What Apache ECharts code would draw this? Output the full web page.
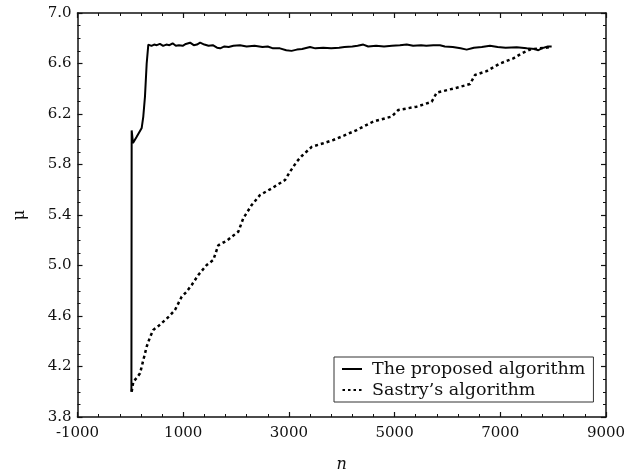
<!DOCTYPE html>
<html>
<head>
<meta charset="utf-8">
<script src="https://cdn.jsdelivr.net/npm/echarts@6/dist/echarts.min.js"></script>
<style>html,body{margin:0;padding:0;background:#fff;}#c{width:636px;height:475px;}</style>
</head>
<body>
<div id="c"></div>
<script>
var seriesNames = ["The proposed algorithm", "Sastry\u2019s algorithm"];
var proposed = [[20,4.0],[25,6.07],[50,5.97],[120,6.02],[215,6.09],[245,6.18],[277,6.34],[309,6.6],[340,6.75],[372,6.76],[400,6.74],[450,6.75],[500,6.745],[560,6.755],[620,6.74],[680,6.75],[740,6.745],[800,6.76],[860,6.74],[920,6.745],[990,6.74],[1050,6.755],[1130,6.765],[1200,6.745],[1260,6.75],[1320,6.765],[1400,6.75],[1480,6.74],[1560,6.745],[1640,6.725],[1700,6.72],[1780,6.735],[1860,6.73],[1950,6.74],[2075,6.745],[2200,6.735],[2350,6.74],[2500,6.73],[2600,6.735],[2700,6.72],[2830,6.72],[2950,6.705],[3050,6.70],[3150,6.71],[3250,6.715],[3400,6.73],[3500,6.72],[3650,6.725],[3800,6.72],[3950,6.725],[4050,6.73],[4200,6.735],[4300,6.74],[4408,6.75],[4500,6.735],[4650,6.74],[4800,6.735],[4950,6.74],[5100,6.745],[5229,6.75],[5350,6.74],[5500,6.745],[5600,6.74],[5733,6.745],[5859,6.745],[5950,6.735],[6100,6.73],[6250,6.72],[6364,6.71],[6500,6.725],[6650,6.73],[6805,6.74],[6950,6.73],[7100,6.725],[7310,6.728],[7500,6.72],[7650,6.715],[7720,6.705],[7780,6.72],[7815,6.735],[7900,6.735],[7972,6.735]];
var sastry = [[25,4.0],[56,4.08],[120,4.11],[183,4.146],[245,4.25],[309,4.357],[370,4.43],[434,4.49],[530,4.52],[624,4.555],[740,4.6],[845,4.648],[972,4.753],[1060,4.79],[1161,4.846],[1286,4.925],[1445,5.004],[1570,5.044],[1664,5.16],[1823,5.196],[2043,5.268],[2137,5.374],[2296,5.479],[2453,5.558],[2675,5.611],[2926,5.677],[3021,5.743],[3148,5.822],[3243,5.867],[3432,5.94],[3651,5.968],[3840,5.994],[4050,6.03],[4283,6.073],[4597,6.14],[4945,6.18],[5070,6.232],[5418,6.258],[5702,6.297],[5797,6.369],[6175,6.408],[6427,6.437],[6521,6.509],[6742,6.54],[6994,6.60],[7246,6.64],[7405,6.68],[7562,6.71],[7750,6.72],[7950,6.73]];
var xRange = [-1000, 9000], xStep = 2000;
var yRange = [3.8, 7.0], yStep = 0.4;
var xName = "n", yName = "\u03bc";

var FONT = "DejaVu Serif";
var chart = echarts.init(document.getElementById('c'), null, {renderer: 'canvas'});
var LINE = {show: true, onZero: false, lineStyle: {color: '#111', width: 1.5}};
var TICK = {show: true, inside: true, length: 5, lineStyle: {color: '#111', width: 1.2}};
function minor(n) { return {show: true, splitNumber: n, length: 3, lineStyle: {color: '#111', width: 1}}; }
var LBL = {color: '#111', fontFamily: FONT, fontSize: 15};
var ICON_SOLID = 'path://M0,0H20V2H0Z';
var ICON_DOT = 'path://M0,0H2.5V2H0Z M5.5,0H8V2H5.5Z M11,0H13.5V2H11Z M16.5,0H19V2H16.5Z';
chart.setOption({
  animation: false,
  grid: {left: 77.5, right: 30, top: 13, bottom: 58, outerBoundsMode: 'none', containLabel: false},
  legend: {
    orient: 'vertical', left: 334, top: 357,
    padding: [3, 8, 3, 8], itemGap: 3, itemWidth: 20, itemHeight: 2,
    borderColor: '#333', borderWidth: 1, backgroundColor: '#fff',
    textStyle: {fontFamily: FONT, fontSize: 17.5, color: '#111', padding: [0, 0, 0, 5]},
    data: [
      {name: seriesNames[0], icon: ICON_SOLID, itemStyle: {color: '#000', borderWidth: 0}},
      {name: seriesNames[1], icon: ICON_DOT, itemStyle: {color: '#000', borderWidth: 0}}
    ]
  },
  xAxis: [
    {type: 'value', position: 'bottom', min: xRange[0], max: xRange[1], interval: xStep,
      axisLine: LINE, axisTick: TICK, minorTick: minor(5), splitLine: {show: false},
      axisLabel: Object.assign({margin: 9, formatter: function (v) { return String(v); }}, LBL),
      name: xName, nameLocation: 'middle', nameGap: 40, nameTextStyle: {fontFamily: FONT, fontStyle: 'italic', fontSize: 16, color: '#111'}},
    {type: 'value', position: 'top', min: xRange[0], max: xRange[1], interval: xStep,
      axisLine: LINE, axisTick: TICK, minorTick: minor(5), splitLine: {show: false}, axisLabel: {show: false}}
  ],
  yAxis: [
    {type: 'value', position: 'left', min: yRange[0], max: yRange[1], interval: yStep,
      axisLine: LINE, axisTick: TICK, minorTick: minor(4), splitLine: {show: false},
      axisLabel: Object.assign({margin: 6, formatter: function (v) { return v.toFixed(1); }}, LBL),
      name: yName, nameLocation: 'middle', nameGap: 50, nameTextStyle: {fontFamily: FONT, fontSize: 16, color: '#111'}},
    {type: 'value', position: 'right', min: yRange[0], max: yRange[1], interval: yStep,
      axisLine: LINE, axisTick: TICK, minorTick: minor(4), splitLine: {show: false}, axisLabel: {show: false}}
  ],
  series: [
    {name: seriesNames[0], type: 'line', xAxisIndex: 0, yAxisIndex: 0, data: proposed, symbol: 'none', lineStyle: {color: '#000', width: 2}, itemStyle: {color: '#000'}},
    {name: seriesNames[1], type: 'line', xAxisIndex: 0, yAxisIndex: 0, data: sastry, symbol: 'none', lineStyle: {color: '#000', width: 2.5, type: [3, 3]}, itemStyle: {color: '#000'}}
  ]
});
</script>
</body>
</html>
